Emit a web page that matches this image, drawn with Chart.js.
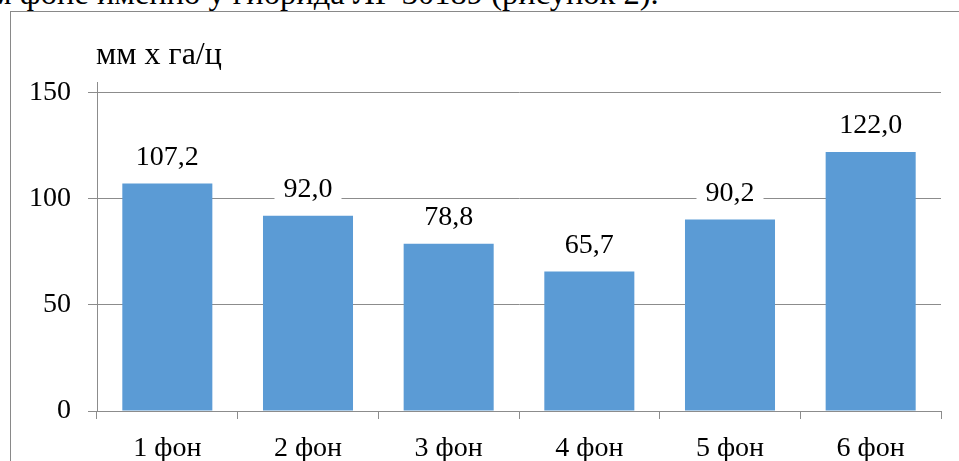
<!DOCTYPE html>
<html lang="ru">
<head>
<meta charset="utf-8">
<script src="https://cdn.jsdelivr.net/npm/chart.js@4.4.1/dist/chart.umd.min.js"></script>
<style>
  html, body { margin: 0; padding: 0; background: #fff; overflow: hidden; }
  body { width: 959px; height: 461px; position: relative; }
  .line {
    position: absolute; left: -9px; top: -25px; white-space: nowrap;
    font-family: "Liberation Serif", "Times New Roman", serif; font-size: 32.5px; color: #000;
  }
  .frame {
    position: absolute; left: 10px; top: 11px; width: 1000px; height: 520px;
    border: 1px solid #898989; box-sizing: border-box;
  }
  #chart { position: absolute; left: 0; top: 0; }
</style>
</head>
<body>
<div class="line">м фоне именно у гибрида ЛГ 30189 (рисунок 2).</div>
<div class="frame"></div>
<canvas id="chart" width="959" height="461"></canvas>
<script>
const categories = ["1 фон", "2 фон", "3 фон", "4 фон", "5 фон", "6 фон"];
const values = [107.2, 92.0, 78.8, 65.7, 90.2, 122.0];
const yTicks = [0, 50, 100, 150];
const unitLabel = "мм х га/ц";

const FAMILY = '"Liberation Serif", "Times New Roman", serif';
const GRID = "#8c8c8c";

const fmt = v => v.toFixed(1).replace(".", ",");

// Value labels above each bar, on a white box that hides the gridline behind them
const valueLabels = {
  id: "valueLabels",
  afterDatasetsDraw(chart) {
    const ctx = chart.ctx;
    const meta = chart.getDatasetMeta(0);
    ctx.save();
    ctx.font = "28px " + FAMILY;
    ctx.textAlign = "center";
    ctx.textBaseline = "middle";
    meta.data.forEach((bar, i) => {
      const txt = fmt(values[i]);
      const w = ctx.measureText(txt).width;
      const cy = bar.y - 27;
      ctx.fillStyle = "#fff";
      ctx.fillRect(bar.x - w / 2 - 9, cy - 14, w + 18, 28);
      ctx.fillStyle = "#000";
      ctx.fillText(txt, bar.x, cy + 1);
    });
    ctx.restore();
  }
};

// Unit caption over the value axis
const unitCaption = {
  id: "unitCaption",
  afterDraw(chart) {
    const ctx = chart.ctx;
    ctx.save();
    ctx.font = "32px " + FAMILY;
    ctx.fillStyle = "#000";
    ctx.textAlign = "left";
    ctx.textBaseline = "alphabetic";
    ctx.fillText(unitLabel, 96, 64);
    ctx.restore();
  }
};

function draw() {
  new Chart(document.getElementById("chart"), {
    type: "bar",
    data: {
      labels: categories,
      datasets: [{
        data: values,
        backgroundColor: "#5b9bd5",
        borderWidth: 0,
        barPercentage: 0.64,
        categoryPercentage: 1.0
      }]
    },
    options: {
      responsive: false,
      animation: false,
      devicePixelRatio: 1,
      layout: { padding: { top: 82, right: 18, left: 0, bottom: 0 } },
      plugins: { legend: { display: false }, tooltip: { enabled: false } },
      scales: {
        x: {
          offset: true,
          grid: {
            offset: true,
            drawOnChartArea: false,
            drawTicks: true,
            tickLength: 8,
            color: GRID,
            lineWidth: 1
          },
          border: { display: true, color: GRID, width: 1 },
          ticks: { color: "#000", font: { family: FAMILY, size: 28 }, padding: 13, maxRotation: 0 },
          afterFit(scale) { scale.height = 50; }
        },
        y: {
          min: 0,
          max: 155,
          afterBuildTicks(scale) { scale.ticks = yTicks.map(v => ({ value: v })); },
          grid: { color: GRID, lineWidth: 1, drawTicks: true, tickLength: 9 },
          border: { display: true, color: GRID, width: 1 },
          ticks: { color: "#000", font: { family: FAMILY, size: 28 }, padding: 17 },
          afterFit(scale) { scale.width = 97; }
        }
      }
    },
    plugins: [valueLabels, unitCaption]
  });
}

// Make sure the serif face is ready before the canvas text is drawn
Promise.all([
  document.fonts.load('28px "Liberation Serif"'),
  document.fonts.load('32px "Liberation Serif"')
]).then(draw, draw);
</script>
</body>
</html>
